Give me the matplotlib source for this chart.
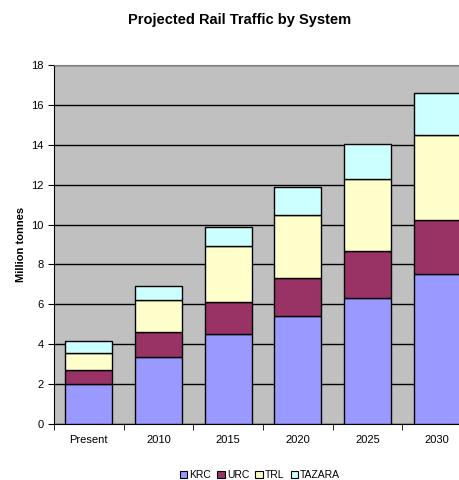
import numpy as np
import matplotlib
matplotlib.use("Agg")
import matplotlib.pyplot as plt
from matplotlib.patches import Patch

plt.rcParams['font.family'] = ['Liberation Sans', 'DejaVu Sans']

categories = ["Present", "2010", "2015", "2020", "2025", "2030"]
krc = [2.0, 3.35, 4.5, 5.4, 6.3, 7.5]
urc = [0.72, 1.25, 1.6, 1.9, 2.35, 2.75]
trl = [0.83, 1.6, 2.8, 3.2, 3.65, 4.25]
tazara = [0.6, 0.7, 1.0, 1.4, 1.75, 2.1]

series = [("KRC", krc, "#9999FF"), ("URC", urc, "#993366"),
          ("TRL", trl, "#FFFFCC"), ("TAZARA", tazara, "#CCFFFF")]

fig = plt.figure(figsize=(4.6, 4.8), dpi=100)
ax = fig.add_axes([54 / 460, 56 / 480, 418 / 460, 359 / 480])
ax.set_facecolor("#C0C0C0")

x = np.arange(len(categories))
bottom = np.zeros(len(categories))
for name, vals, col in series:
    ax.bar(x, vals, 0.67, bottom=bottom, color=col, edgecolor="black", linewidth=1, zorder=3)
    bottom += np.array(vals)

ax.set_xlim(-0.5, len(categories) - 0.5)
ax.set_ylim(0, 18)
ax.set_yticks(range(0, 19, 2))
ax.yaxis.grid(True, color="black", linewidth=1, zorder=0)
ax.set_axisbelow(True)

ax.set_xticks(x)
ax.set_xticklabels(categories, fontsize=8)
ax.tick_params(axis="x", length=0, pad=8)
ax.set_xticks(np.arange(len(categories) + 1) - 0.5, minor=True)
ax.tick_params(axis="x", which="minor", length=4, direction="out", color="black")
ax.tick_params(axis="y", labelsize=8, length=4, direction="out", color="black")

for s in ["top", "right"]:
    ax.spines[s].set_color("#808080")
ax.spines["left"].set_color("black")
ax.spines["bottom"].set_color("black")

ax.set_ylabel("Million tonnes", fontsize=8, fontweight="bold", labelpad=4)
fig.text(240 / 460, 1 - 20 / 480, "Projected Rail Traffic by System",
         ha="center", va="center", fontsize=10.5, fontweight="bold")

handles = [Patch(facecolor=c, edgecolor="black", linewidth=0.8, label=n) for n, _, c in series]
fig.legend(handles=handles, loc="center", bbox_to_anchor=(260 / 460, 1 - 475 / 480),
           ncol=4, frameon=False, fontsize=7.5, handlelength=0.7, handleheight=0.7,
           handletextpad=0.2, columnspacing=0.6)

fig.savefig("out.png", dpi=100)
